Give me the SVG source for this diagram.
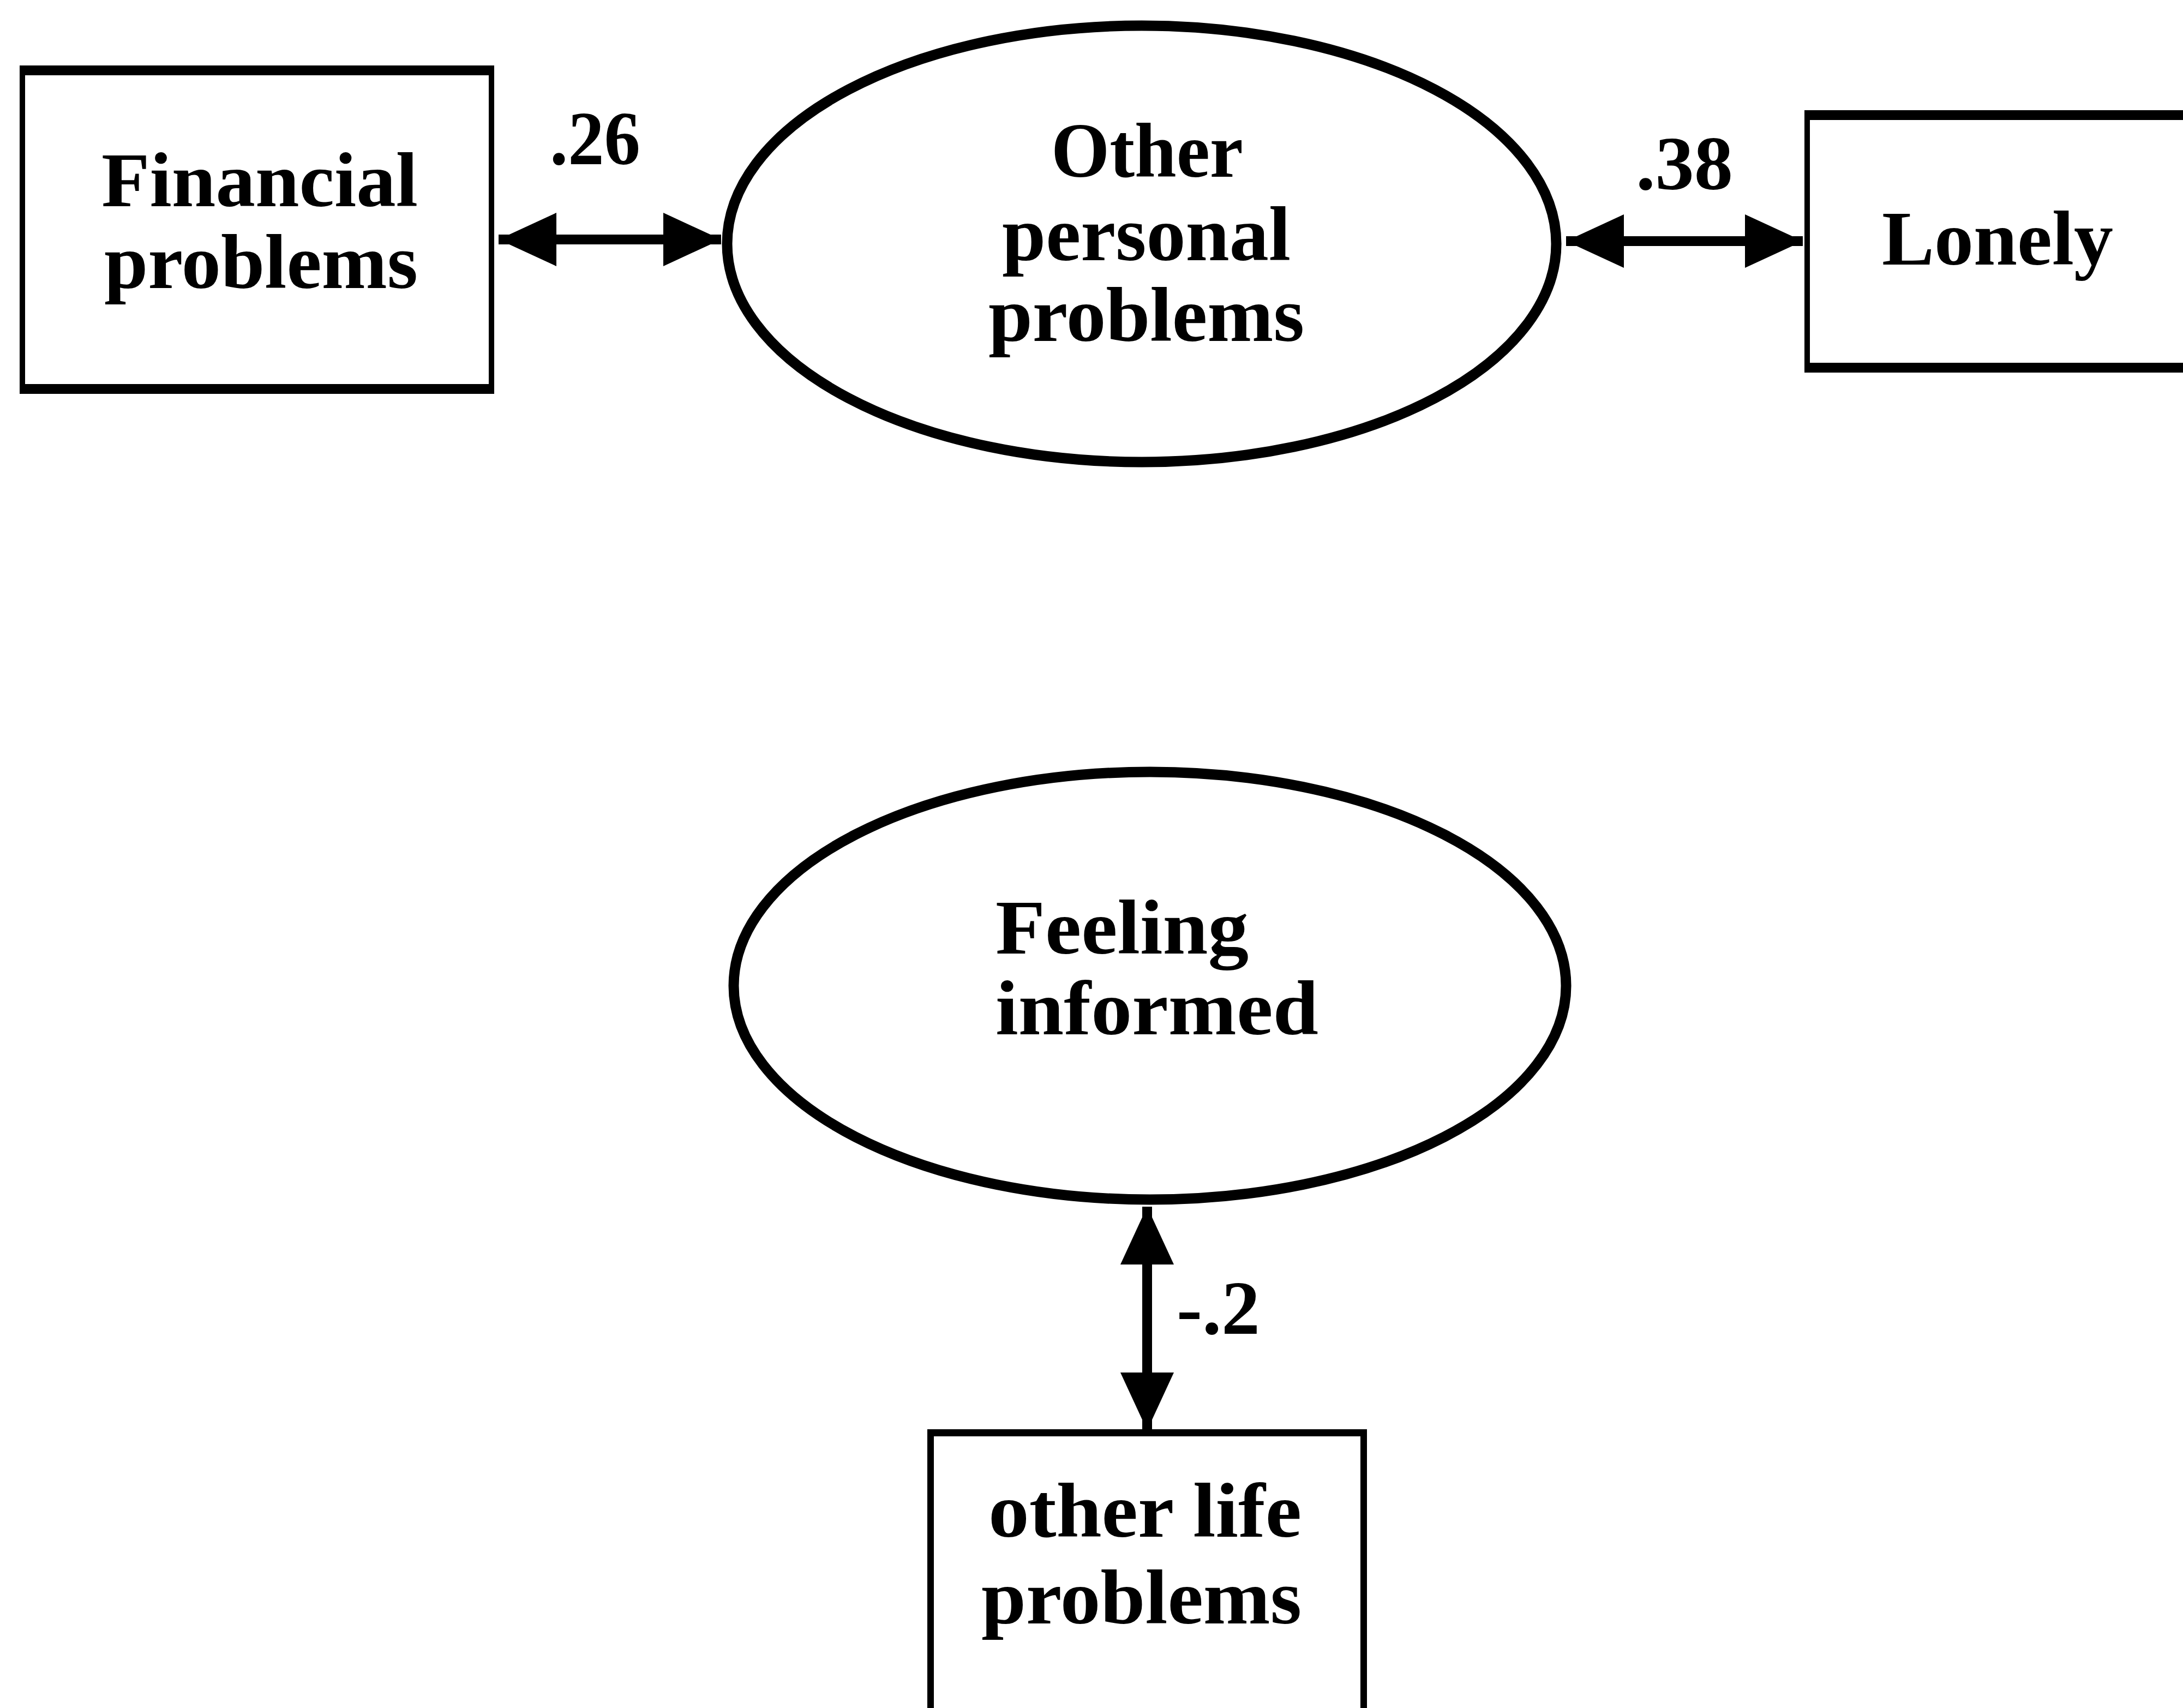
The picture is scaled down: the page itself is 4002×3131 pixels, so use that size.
<svg xmlns="http://www.w3.org/2000/svg" width="4002" height="3131" viewBox="0 0 4002 3131">
  <style>
    .frame { fill: #000; }
    .inner { fill: #fff; }
    .latent { fill: #fff; stroke: #000; stroke-width: 19; }
    .lbl { font-family: "Liberation Serif", "DejaVu Serif", serif; font-weight: bold; font-size: 142px; fill: #000; }
    .coef { font-family: "Liberation Serif", "DejaVu Serif", serif; font-weight: bold; font-size: 140px; fill: #000; }
    .link { stroke: #000; stroke-width: 18; fill: none; marker-start: url(#head); marker-end: url(#head); }
  </style>
  <defs>
    <!-- solid triangular head, used at both ends of each correlation -->
    <marker id="head" markerUnits="userSpaceOnUse" viewBox="0 0 106 98" refX="106" refY="49" markerWidth="106" markerHeight="98" orient="auto-start-reverse">
      <path d="M0,0 L106,49 L0,98 Z" fill="#000"/>
    </marker>
  </defs>
  <rect width="4002" height="3131" fill="#fff"/>

  <!-- Connectors -->
  <g id="connectors">
    <line class="link" x1="914" y1="439" x2="1322" y2="439"/>
    <line class="link" x1="2871" y1="442" x2="3305" y2="442"/>
    <line class="link" x1="2103" y1="2212" x2="2103" y2="2622"/>
    <text class="coef" x="1091" y="301" text-anchor="middle" textLength="166" lengthAdjust="spacingAndGlyphs">.26</text>
    <text class="coef" x="3088" y="347" text-anchor="middle" textLength="178" lengthAdjust="spacingAndGlyphs">.38</text>
    <text class="coef" x="2157" y="2445" textLength="153" lengthAdjust="spacingAndGlyphs">-.2</text>
  </g>

  <!-- Financial problems (observed) -->
  <g id="financial-problems">
    <rect class="frame" x="36" y="120" width="870" height="602"/>
    <rect class="inner" x="46" y="138" width="850" height="566"/>
    <text class="lbl" x="186" y="378" textLength="580" lengthAdjust="spacingAndGlyphs">Financial</text>
    <text class="lbl" x="191" y="528" textLength="575" lengthAdjust="spacingAndGlyphs">problems</text>
  </g>

  <!-- Other personal problems (latent) -->
  <g id="other-personal-problems">
    <ellipse class="latent" cx="2093" cy="447" rx="760" ry="400"/>
    <text class="lbl" x="1927" y="324" textLength="352" lengthAdjust="spacingAndGlyphs">Other</text>
    <text class="lbl" x="1837" y="477" textLength="529" lengthAdjust="spacingAndGlyphs">personal</text>
    <text class="lbl" x="1812" y="625" textLength="579" lengthAdjust="spacingAndGlyphs">problems</text>
  </g>

  <!-- Lonely (observed) -->
  <g id="lonely">
    <rect class="frame" x="3308" y="202" width="720" height="481"/>
    <rect class="inner" x="3318" y="220" width="720" height="445"/>
    <text class="lbl" x="3450" y="485" textLength="424" lengthAdjust="spacingAndGlyphs">Lonely</text>
  </g>

  <!-- Feeling informed (latent) -->
  <g id="feeling-informed">
    <ellipse class="latent" cx="2108" cy="1807" rx="763" ry="392"/>
    <text class="lbl" x="1825" y="1748" textLength="464" lengthAdjust="spacingAndGlyphs">Feeling</text>
    <text class="lbl" x="1825" y="1896" textLength="592" lengthAdjust="spacingAndGlyphs">informed</text>
  </g>

  <!-- other life problems (observed) -->
  <g id="other-life-problems">
    <rect class="frame" x="1700" y="2620" width="806" height="540"/>
    <rect class="inner" x="1712" y="2633" width="782" height="540"/>
    <text class="lbl" x="1812" y="2817" textLength="574" lengthAdjust="spacingAndGlyphs">other life</text>
    <text class="lbl" x="1799" y="2976" textLength="587" lengthAdjust="spacingAndGlyphs">problems</text>
  </g>
</svg>
